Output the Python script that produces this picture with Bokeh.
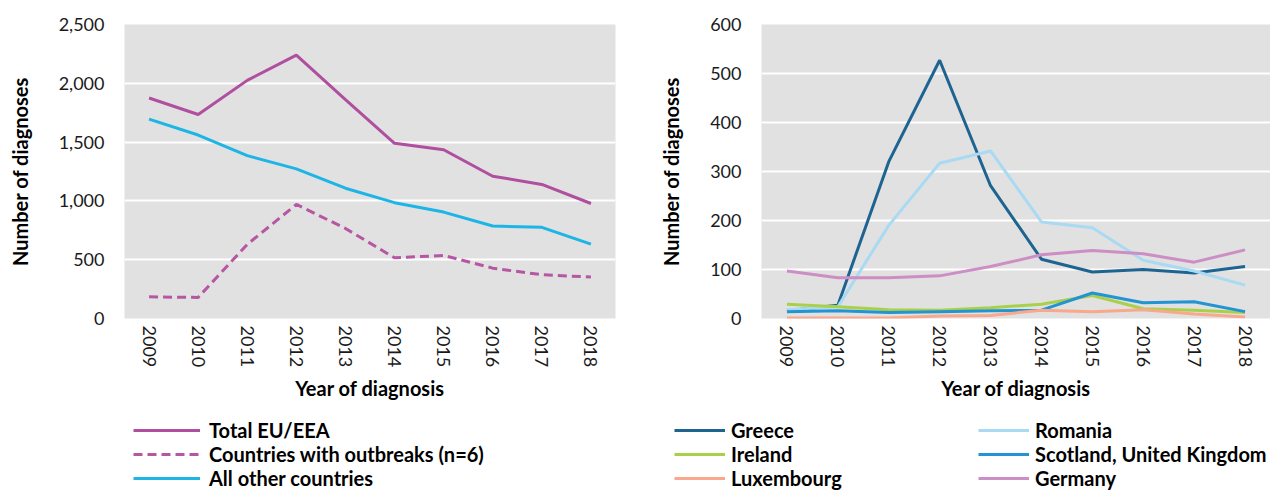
from bokeh.plotting import figure
from bokeh.models import Range1d, FixedTicker, NumeralTickFormatter, Legend, LegendItem
from bokeh.layouts import row, column
from bokeh.embed import file_html
from bokeh.resources import INLINE

years = [2009, 2010, 2011, 2012, 2013, 2014, 2015, 2016, 2017, 2018]

# Left chart
total_eu = [1875, 1735, 2025, 2240, 1862, 1490, 1435, 1210, 1140, 978]
outbreak_countries = [184, 179, 630, 970, 766, 516, 536, 428, 372, 352]
other_countries = [1695, 1560, 1385, 1272, 1108, 985, 905, 786, 775, 633]
left_ticks = [0, 500, 1000, 1500, 2000, 2500]

# Right chart
greece = [16, 27, 320, 527, 271, 121, 95, 100, 93, 106]
romania = [18, 24, 190, 317, 342, 197, 185, 119, 97, 68]
ireland = [29, 24, 18, 17, 22, 29, 47, 20, 17, 12]
scotland = [14, 16, 12, 14, 16, 17, 52, 32, 34, 14]
luxembourg = [1, 1, 1, 5, 6, 17, 14, 18, 9, 3]
germany = [97, 83, 83, 87, 106, 130, 139, 132, 115, 140]
right_ticks = [0, 100, 200, 300, 400, 500, 600]

left_series = ["Total EU/EEA", "Countries with outbreaks (n=6)", "All other countries"]
right_series = ["Greece", "Romania", "Ireland", "Scotland, United Kingdom",
                "Luxembourg", "Germany"]

FONT = "Lato"
TICK_SIZE = "18px"
TITLE_SIZE = "20px"
LEG_SIZE = "20px"

C_TOTAL = "#B04E9F"
C_OUT = "#B657A4"
C_OTHER = "#1DB5E5"
C_GR = "#1E6491"
C_RO = "#A8DAF3"
C_IE = "#A9D04A"
C_SC = "#2294D2"
C_LU = "#F8A88C"
C_DE = "#CC8EC4"
DASH = "9 5"


def style(p, ticks, fmt=None):
    p.background_fill_color = "#E1E1E1"
    p.border_fill_color = "white"
    p.outline_line_color = None
    p.xgrid.grid_line_color = None
    p.ygrid.grid_line_color = "white"
    p.ygrid.grid_line_width = 2
    p.yaxis.ticker = FixedTicker(ticks=ticks)
    p.xaxis.ticker = FixedTicker(ticks=years)
    if fmt:
        p.yaxis.formatter = fmt
    for ax in (p.xaxis, p.yaxis):
        ax.axis_line_color = None
        ax.major_tick_line_color = None
        ax.minor_tick_line_color = None
        ax.major_tick_out = 0
        ax.major_tick_in = 0
        ax.major_label_text_font = FONT
        ax.major_label_text_font_size = TICK_SIZE
        ax.major_label_text_color = "#1a1a1a"
        ax.axis_label_text_font = FONT
        ax.axis_label_text_font_size = TITLE_SIZE
        ax.axis_label_text_font_style = "bold"
        ax.axis_label_text_color = "black"
    p.xaxis.major_label_orientation = "vertical"
    p.xaxis.major_label_standoff = 7
    p.yaxis.major_label_standoff = 20
    p.xaxis.axis_label = "Year of diagnosis"
    p.yaxis.axis_label = "Number of diagnoses"
    p.xaxis.axis_label_standoff = 6
    p.yaxis.axis_label_standoff = 24


def legend_fig(width):
    # a strip that only hosts the legend; its ranges keep the key lines off-view
    f = figure(width=width, height=74, output_backend="svg", toolbar_location=None,
               x_range=Range1d(0, 1), y_range=Range1d(0, 1),
               x_axis_type=None, y_axis_type=None, min_border=0)
    f.grid.visible = False
    f.outline_line_color = None
    f.background_fill_color = "white"
    f.border_fill_color = "white"
    return f


def make_legend(items, loc, glyph_w, standoff, **kw):
    return Legend(items=items, location=loc,
                  glyph_width=glyph_w, glyph_height=24, label_height=24,
                  label_standoff=standoff, spacing=0, padding=0, margin=0,
                  label_text_font=FONT, label_text_font_size=LEG_SIZE,
                  label_text_font_style="bold", label_text_color="black",
                  background_fill_alpha=0, border_line_alpha=0, **kw)


# ---------- left chart ----------
p1 = figure(width=640, height=416, output_backend="svg", toolbar_location=None,
            x_range=Range1d(2008.5, 2018.5), y_range=Range1d(0, 2500),
            min_border_left=124, min_border_right=25, min_border_top=24,
            min_border_bottom=98)
style(p1, left_ticks, NumeralTickFormatter(format="0,0"))
left_data = [total_eu, outbreak_countries, other_countries]
left_colors = [C_TOTAL, C_OUT, C_OTHER]
left_dash = ["solid", DASH, "solid"]
for vals, col, dsh in zip(left_data, left_colors, left_dash):
    p1.line(years, vals, line_color=col, line_width=3, line_dash=dsh)

# ---------- right chart ----------
p2 = figure(width=630, height=416, output_backend="svg", toolbar_location=None,
            x_range=Range1d(2008.5, 2018.5), y_range=Range1d(0, 600),
            min_border_left=121, min_border_right=0, min_border_top=23,
            min_border_bottom=98)
style(p2, right_ticks)
right_data = [greece, romania, ireland, scotland, luxembourg, germany]
right_colors = [C_GR, C_RO, C_IE, C_SC, C_LU, C_DE]
for vals, col in zip(right_data, right_colors):
    p2.line(years, vals, line_color=col, line_width=3)

# ---------- legends ----------
l1 = legend_fig(640)
k1 = [l1.line(years, vals, line_color=col, line_width=3, line_dash=dsh)
      for vals, col, dsh in zip(left_data, left_colors, left_dash)]
leg1 = make_legend([LegendItem(label=n, renderers=[r]) for n, r in zip(left_series, k1)],
                   (133, 0), 67, 9, orientation="vertical")
l1.add_layout(leg1, "center")

l2 = legend_fig(630)
k2 = [l2.line(years, vals, line_color=col, line_width=3)
      for vals, col in zip(right_data, right_colors)]
leg2 = make_legend([LegendItem(label=n, renderers=[r]) for n, r in zip(right_series, k2)],
                   (34, 0), 51, 6, orientation="horizontal", ncols=2, label_width=247)
l2.add_layout(leg2, "center")

layout = column(row(p1, p2), row(l1, l2))
open("out.html", "w").write(file_html(layout, INLINE))
